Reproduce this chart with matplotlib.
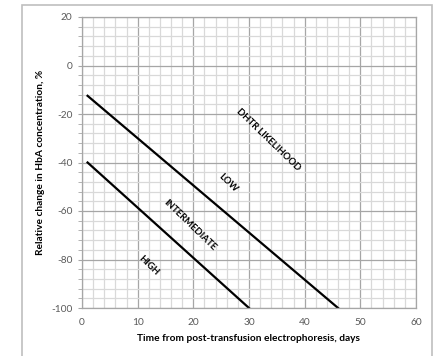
import matplotlib
matplotlib.use("Agg")
import matplotlib.pyplot as plt
from matplotlib.patches import Rectangle
from matplotlib.ticker import MultipleLocator

plt.rcParams['font.family'] = ['Lato', 'DejaVu Sans']
plt.rcParams['axes.unicode_minus'] = False

# Boundary lines (days, % change)
upper_x = [1, 46]
upper_y = [-12.5, -100]
lower_x = [1, 30]
lower_y = [-40, -100]

labels = ["DHTR LIKELIHOOD", "LOW", "INTERMEDIATE", "HIGH"]
label_x = [33.4, 26.2, 19.3, 11.9]
label_y = [-30.7, -48.4, -65.8, -82.7]

xticks = [0, 10, 20, 30, 40, 50, 60]
yticks = [20, 0, -20, -40, -60, -80, -100]

fig = plt.figure(figsize=(4.39, 3.56), dpi=100)
ax = fig.add_axes([82/439, 1-308/356, 334/439, 291/356])

fig.patches.append(Rectangle((22/439, -0.1), 410/439, 1.1 - 5/356, transform=fig.transFigure,
                             fill=False, edgecolor='#bfbfbf', linewidth=1.2))

ax.set_xlim(0, 60)
ax.set_ylim(-100, 20)
ax.set_xticks(xticks)
ax.set_yticks(yticks)
ax.xaxis.set_minor_locator(MultipleLocator(2))
ax.yaxis.set_minor_locator(MultipleLocator(4))
ax.grid(True, which='minor', color='#d9d9d9', linewidth=0.9)
ax.grid(True, which='major', color='#a6a6a6', linewidth=0.9)
ax.set_axisbelow(True)
for s in ax.spines.values():
    s.set_color('#a6a6a6')
    s.set_linewidth(0.9)

ax.tick_params(axis='both', which='major', labelsize=7.3, labelcolor='#595959', color='#a6a6a6', length=3)
ax.tick_params(axis='x', which='both', length=0, pad=7)
ax.tick_params(axis='y', which='minor', length=3, color='#a6a6a6')
ax.tick_params(axis='y', which='major', pad=4)

ax.plot(upper_x, upper_y, color='black', linewidth=1.6)
ax.plot(lower_x, lower_y, color='black', linewidth=1.6)

for t, x, y in zip(labels, label_x, label_y):
    ax.text(x, y, t, rotation=-44, rotation_mode='anchor', ha='center', va='center',
            fontsize=6.8, fontweight='bold', color='black')

ax.set_xlabel('Time from post-transfusion electrophoresis, days', fontsize=7.3, fontweight='bold', labelpad=5)
ax.set_ylabel('Relative change in HbA concentration, %', fontsize=7.3, fontweight='bold', labelpad=4)

fig.savefig('out.png', dpi=100)
